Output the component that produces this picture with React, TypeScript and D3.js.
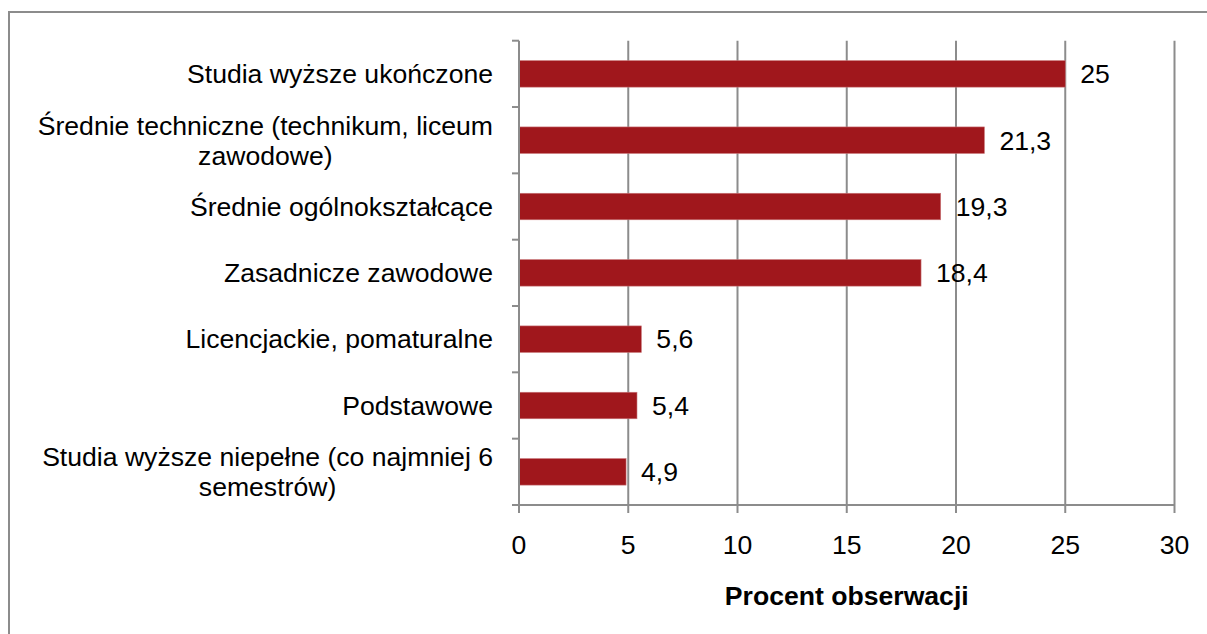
import React, { useEffect, useRef } from "react";
import * as d3 from "d3";

const categories: string[] = [
  "Studia wyższe ukończone",
  "Średnie techniczne (technikum, liceum zawodowe)",
  "Średnie ogólnokształcące",
  "Zasadnicze zawodowe",
  "Licencjackie, pomaturalne",
  "Podstawowe",
  "Studia wyższe niepełne (co najmniej 6 semestrów)",
];
const values: number[] = [25, 21.3, 19.3, 18.4, 5.6, 5.4, 4.9];
const xTicks: number[] = [0, 5, 10, 15, 20, 25, 30];
const xTitle = "Procent obserwacji";

const W = 1207;
const H = 634;
const FONT = "'Liberation Sans', Arial, sans-serif";
const FS = 26.6;

export default function App() {
  const ref = useRef<SVGSVGElement | null>(null);

  useEffect(() => {
    const svg = d3.select(ref.current);
    svg.selectAll("*").remove();

    const left = 519;
    const right = 1174.5;
    const top = 40.7;
    const bottom = 505;
    const grey = "#8c8c8c";

    const x = d3.scaleLinear().domain([0, 30]).range([left, right]);
    const y = d3
      .scaleBand<string>()
      .domain(categories)
      .range([top, bottom])
      .paddingInner(0.6)
      .paddingOuter(0.3);
    const step = y.step();

    // frame
    svg
      .append("path")
      .attr("d", `M9,${H} V12 H${W}`)
      .attr("fill", "none")
      .attr("stroke", grey)
      .attr("stroke-width", 2);

    // gridlines
    svg
      .append("g")
      .selectAll("line")
      .data(xTicks.filter((t) => t > 0))
      .join("line")
      .attr("x1", (d) => x(d))
      .attr("x2", (d) => x(d))
      .attr("y1", top)
      .attr("y2", bottom)
      .attr("stroke", grey)
      .attr("stroke-width", 2);

    // bars
    svg
      .append("g")
      .selectAll("rect")
      .data(values)
      .join("rect")
      .attr("x", x(0))
      .attr("y", (_, i) => y(categories[i])!)
      .attr("width", (d) => x(d) - x(0))
      .attr("height", y.bandwidth())
      .attr("fill", "#a0171c")
      .attr("stroke", "#c9777a")
      .attr("stroke-width", 0.6);

    // y axis line
    svg
      .append("line")
      .attr("x1", left)
      .attr("x2", left)
      .attr("y1", top)
      .attr("y2", bottom)
      .attr("stroke", grey)
      .attr("stroke-width", 2);
    // y ticks at band boundaries
    svg
      .append("g")
      .selectAll("line")
      .data(d3.range(categories.length + 1))
      .join("line")
      .attr("x1", left - 7)
      .attr("x2", left)
      .attr("y1", (i) => top + i * step)
      .attr("y2", (i) => top + i * step)
      .attr("stroke", grey)
      .attr("stroke-width", 2);

    // x axis line
    svg
      .append("line")
      .attr("x1", left - 7)
      .attr("x2", right)
      .attr("y1", bottom)
      .attr("y2", bottom)
      .attr("stroke", grey)
      .attr("stroke-width", 2);
    svg
      .append("g")
      .selectAll("line")
      .data(xTicks)
      .join("line")
      .attr("x1", (d) => x(d))
      .attr("x2", (d) => x(d))
      .attr("y1", bottom)
      .attr("y2", bottom + 8)
      .attr("stroke", grey)
      .attr("stroke-width", 2);

    // x tick labels
    svg
      .append("g")
      .selectAll("text")
      .data(xTicks)
      .join("text")
      .attr("x", (d) => x(d))
      .attr("y", 545)
      .attr("dy", "0.35em")
      .attr("text-anchor", "middle")
      .attr("font-family", FONT)
      .attr("font-size", FS)
      .attr("fill", "#000")
      .text((d) => String(d));

    // x title
    svg
      .append("text")
      .attr("x", (left + right) / 2)
      .attr("y", 605)
      .attr("text-anchor", "middle")
      .attr("font-family", FONT)
      .attr("font-size", FS)
      .attr("font-weight", "bold")
      .attr("fill", "#000")
      .text(xTitle);

    // value labels
    svg
      .append("g")
      .selectAll("text")
      .data(values)
      .join("text")
      .attr("x", (d) => x(d) + 15)
      .attr("y", (_, i) => y(categories[i])! + y.bandwidth() / 2)
      .attr("dy", "0.35em")
      .attr("font-family", FONT)
      .attr("font-size", FS)
      .attr("fill", "#000")
      .text((d) => String(d).replace(".", ","));

    // category labels with wrapping
    const labelRight = 493;
    const maxW = 470;
    const lineH = 30;
    const gLab = svg.append("g");
    categories.forEach((cat) => {
      const cy = y(cat)! + y.bandwidth() / 2;
      const t = gLab
        .append("text")
        .attr("font-family", FONT)
        .attr("font-size", FS)
        .attr("fill", "#000")
        .attr("text-anchor", "middle");
      const words = cat.split(" ");
      const lines: string[] = [];
      let cur = "";
      const probe = t.append("tspan");
      words.forEach((w) => {
        const test = cur ? cur + " " + w : w;
        probe.text(test);
        const len = (probe.node() as SVGTextContentElement).getComputedTextLength();
        if (len > maxW && cur) {
          lines.push(cur);
          cur = w;
        } else {
          cur = test;
        }
      });
      if (cur) lines.push(cur);
      probe.remove();
      const widths: number[] = [];
      const spans = lines.map((ln) => {
        const s = t.append("tspan").text(ln);
        widths.push((s.node() as SVGTextContentElement).getComputedTextLength());
        return s;
      });
      const bw = Math.max(...widths);
      const cx = labelRight - bw / 2;
      const y0 = cy - ((lines.length - 1) * lineH) / 2;
      spans.forEach((s, i) => {
        s.attr("x", cx).attr("y", y0 + i * lineH).attr("dy", "0.35em");
      });
    });
  }, []);

  return (
    <svg
      ref={ref}
      width={W}
      height={H}
      style={{ position: "fixed", left: 0, top: 0, background: "#fff" }}
    />
  );
}
